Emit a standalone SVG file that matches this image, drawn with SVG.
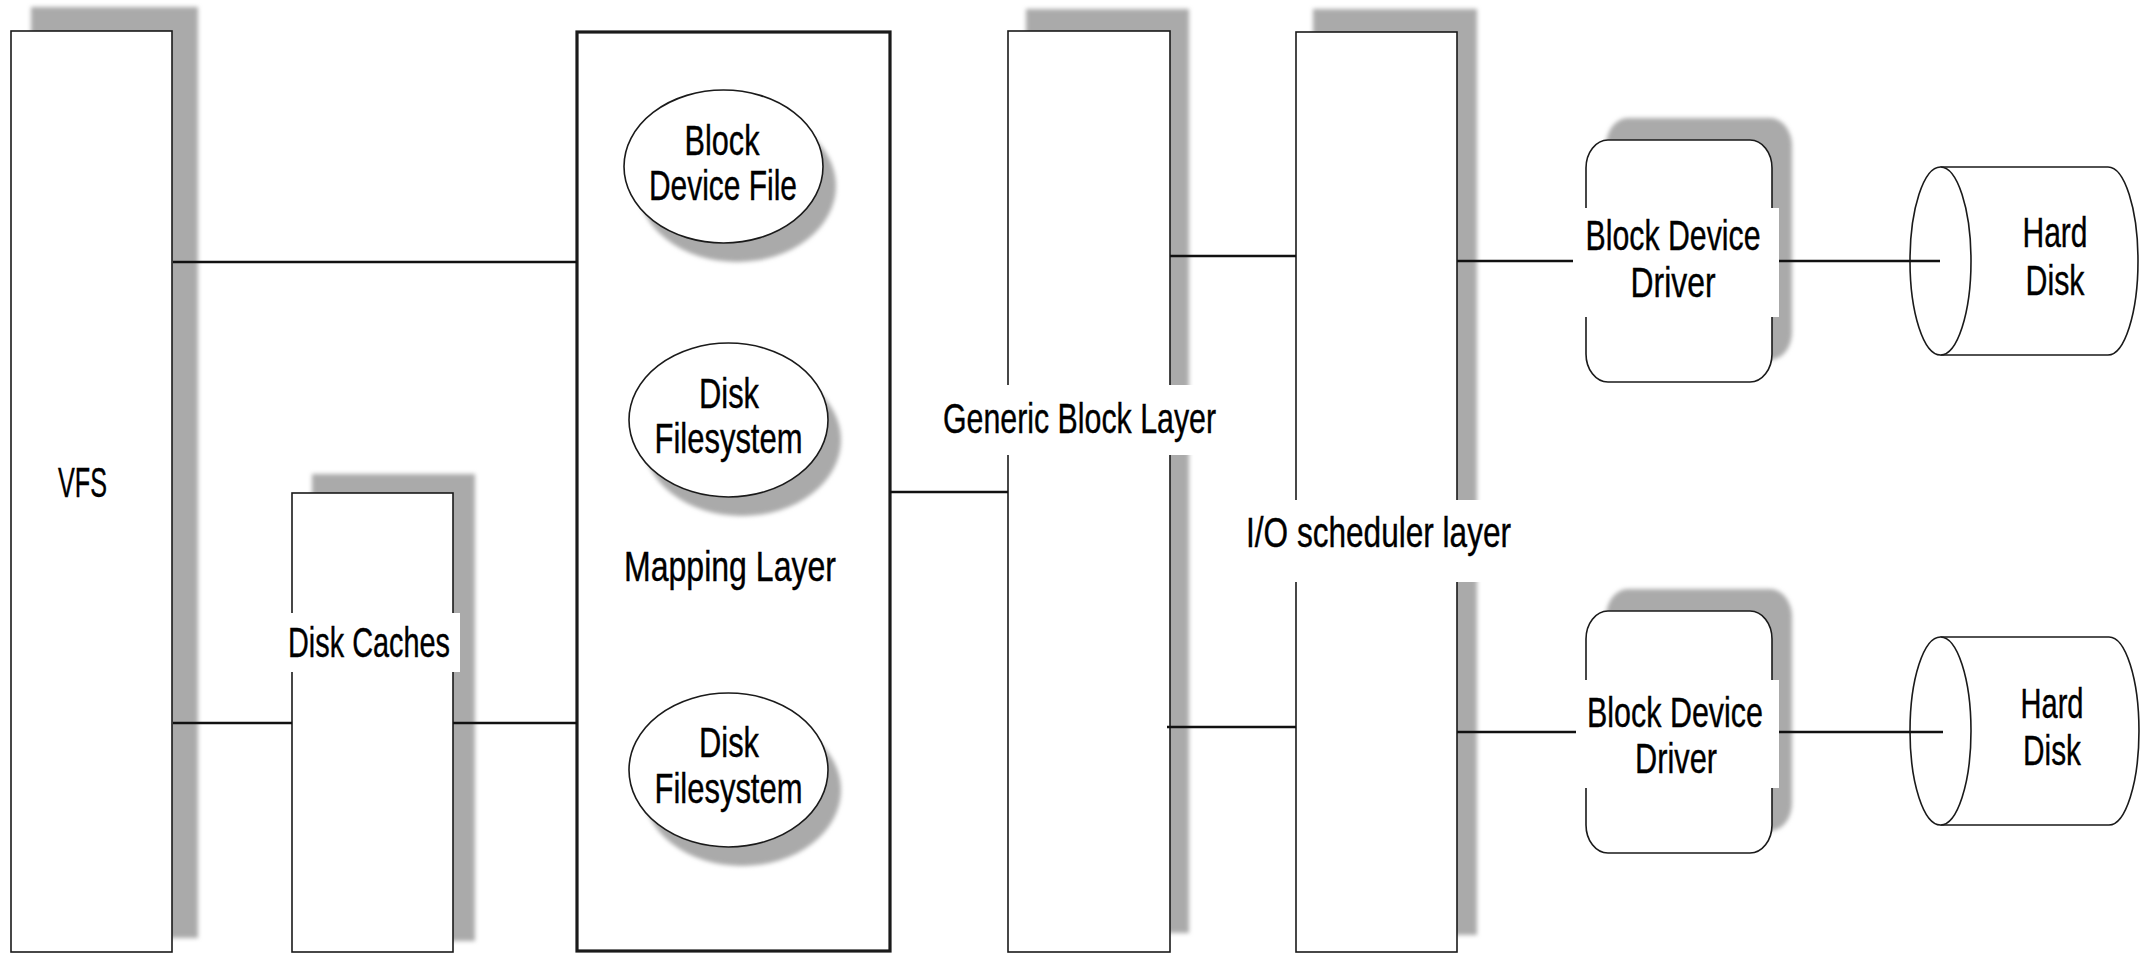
<svg xmlns="http://www.w3.org/2000/svg" width="2149" height="953" viewBox="0 0 2149 953">
  <style>
    .box { fill: #ffffff; stroke: #1a1a1a; stroke-width: 1.6; }
    .thick { stroke-width: 3.2; }
    .shadow { fill: #aaaaaa; filter: url(#soft); }
    .gap { fill: #ffffff; }
    .lbl { font-family: "Liberation Sans Narrow", "Liberation Sans", Arial, sans-serif; font-size: 43px; fill: #000000; text-anchor: middle; stroke: #000000; stroke-width: 0.4; }
    .wire { stroke: #111111; stroke-width: 2.6; fill: none; }
  </style>
  <defs>
    <filter id="soft" x="-10%" y="-10%" width="120%" height="120%">
      <feGaussianBlur stdDeviation="2"/>
    </filter>
  </defs>
  <rect width="2149" height="953" fill="#ffffff"/>

  <!-- Virtual filesystem column -->
  <g id="vfs">
    <rect class="shadow" x="31" y="7" width="167" height="931"/>
    <rect class="box" x="11" y="31" width="161" height="921"/>
    <text class="lbl" x="82.5" y="497" textLength="49" lengthAdjust="spacingAndGlyphs">VFS</text>
  </g>

  <!-- Page/buffer caches -->
  <g id="disk-caches">
    <rect class="shadow" x="312" y="474" width="163" height="467"/>
    <rect class="box" x="292" y="493" width="161" height="459"/>
    <rect class="gap" x="286" y="613" width="174" height="59"/>
    <text class="lbl" x="369" y="657" textLength="162" lengthAdjust="spacingAndGlyphs">Disk Caches</text>
  </g>

  <!-- Mapping layer with its three components -->
  <g id="mapping-layer">
    <rect class="box thick" x="577" y="32" width="313" height="919"/>
    <text class="lbl" x="730" y="581" textLength="212" lengthAdjust="spacingAndGlyphs">Mapping Layer</text>
  </g>
  <g id="block-device-file">
    <ellipse class="shadow" cx="737" cy="186" rx="99" ry="76"/>
    <ellipse class="box" cx="723.5" cy="166.5" rx="99.5" ry="76.5"/>
    <text class="lbl" x="722" y="155" textLength="75" lengthAdjust="spacingAndGlyphs">Block</text>
    <text class="lbl" x="723" y="200" textLength="148" lengthAdjust="spacingAndGlyphs">Device File</text>
  </g>
  <g id="disk-filesystem-1">
    <ellipse class="shadow" cx="742" cy="440" rx="99" ry="76"/>
    <ellipse class="box" cx="728.5" cy="420" rx="99.5" ry="77"/>
    <text class="lbl" x="729" y="408" textLength="60" lengthAdjust="spacingAndGlyphs">Disk</text>
    <text class="lbl" x="728.5" y="453" textLength="148" lengthAdjust="spacingAndGlyphs">Filesystem</text>
  </g>
  <g id="disk-filesystem-2">
    <ellipse class="shadow" cx="742" cy="790" rx="99" ry="76"/>
    <ellipse class="box" cx="728.5" cy="770" rx="99.5" ry="77"/>
    <text class="lbl" x="729" y="757" textLength="60" lengthAdjust="spacingAndGlyphs">Disk</text>
    <text class="lbl" x="728.5" y="803" textLength="148" lengthAdjust="spacingAndGlyphs">Filesystem</text>
  </g>

  <!-- Generic block layer -->
  <g id="generic-block-layer">
    <rect class="shadow" x="1026" y="9" width="163" height="924"/>
    <rect class="box" x="1008" y="31" width="162" height="921"/>
    <rect class="gap" x="935" y="385" width="285" height="70"/>
    <text class="lbl" x="1079.5" y="433" textLength="273" lengthAdjust="spacingAndGlyphs">Generic Block Layer</text>
  </g>

  <!-- I/O scheduler layer -->
  <g id="io-scheduler-layer">
    <rect class="shadow" x="1313" y="9" width="164" height="926"/>
    <rect class="box" x="1296" y="32" width="161" height="920"/>
    <rect class="gap" x="1238" y="500" width="280" height="82"/>
    <text class="lbl" x="1378.5" y="547" textLength="265" lengthAdjust="spacingAndGlyphs">I/O scheduler layer</text>
  </g>

  <!-- Device drivers -->
  <g id="block-device-driver-1">
    <rect class="shadow" x="1606" y="118" width="186" height="242" rx="22" ry="28"/>
    <rect class="box" x="1586" y="140" width="186" height="242" rx="22" ry="28"/>
    <rect class="gap" x="1573" y="208" width="206" height="109"/>
    <text class="lbl" x="1673" y="250" textLength="175" lengthAdjust="spacingAndGlyphs">Block Device</text>
    <text class="lbl" x="1673" y="297" textLength="85" lengthAdjust="spacingAndGlyphs">Driver</text>
  </g>
  <g id="block-device-driver-2">
    <rect class="shadow" x="1606" y="589" width="186" height="242" rx="22" ry="28"/>
    <rect class="box" x="1586" y="611" width="186" height="242" rx="22" ry="28"/>
    <rect class="gap" x="1576" y="680" width="203" height="108"/>
    <text class="lbl" x="1675" y="727" textLength="176" lengthAdjust="spacingAndGlyphs">Block Device</text>
    <text class="lbl" x="1676" y="773" textLength="82" lengthAdjust="spacingAndGlyphs">Driver</text>
  </g>

  <!-- Disks drawn as cylinders lying on their side -->
  <g id="hard-disk-1">
    <path class="box" d="M1940.5,167 L2108,167 A30,94 0 0 1 2108,355 L1940.5,355"/>
    <ellipse class="box" cx="1940.5" cy="261" rx="30.5" ry="94"/>
    <text class="lbl" x="2055" y="247" textLength="65" lengthAdjust="spacingAndGlyphs">Hard</text>
    <text class="lbl" x="2055" y="295" textLength="59" lengthAdjust="spacingAndGlyphs">Disk</text>
  </g>
  <g id="hard-disk-2">
    <path class="box" d="M1940.5,637 L2109,637 A30,94 0 0 1 2109,825 L1940.5,825"/>
    <ellipse class="box" cx="1940.5" cy="731" rx="30.5" ry="94"/>
    <text class="lbl" x="2052" y="718" textLength="63" lengthAdjust="spacingAndGlyphs">Hard</text>
    <text class="lbl" x="2052" y="765" textLength="58" lengthAdjust="spacingAndGlyphs">Disk</text>
  </g>

  <!-- Connectors -->
  <g id="connectors">
    <line class="wire" x1="173" y1="262" x2="577" y2="262"/>
    <line class="wire" x1="173" y1="723" x2="292" y2="723"/>
    <line class="wire" x1="453" y1="723" x2="577" y2="723"/>
    <line class="wire" x1="890" y1="492" x2="1008" y2="492"/>
    <line class="wire" x1="1170" y1="256" x2="1296" y2="256"/>
    <line class="wire" x1="1167" y1="727" x2="1296" y2="727"/>
    <line class="wire" x1="1457" y1="261" x2="1573" y2="261"/>
    <line class="wire" x1="1779" y1="261" x2="1940" y2="261"/>
    <line class="wire" x1="1457" y1="732" x2="1576" y2="732"/>
    <line class="wire" x1="1779" y1="732" x2="1943" y2="732"/>
  </g>
</svg>
